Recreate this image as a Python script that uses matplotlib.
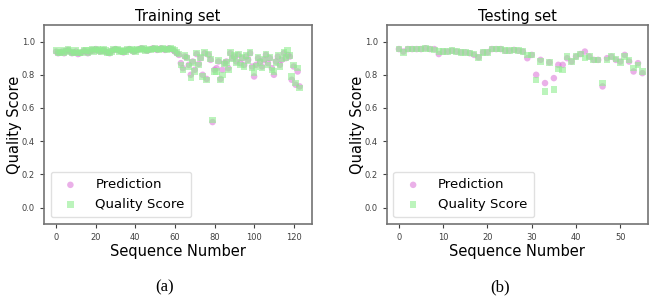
import matplotlib
matplotlib.use("Agg")
import matplotlib.pyplot as plt
import numpy as np

# training set (124 sequences)
train_pred = [
    0.94, 0.93, 0.935, 0.94, 0.93, 0.945, 0.95, 0.94, 0.93, 0.935,
    0.94, 0.925, 0.93, 0.935, 0.945, 0.94, 0.93, 0.94, 0.95, 0.945,
    0.955, 0.95, 0.94, 0.945, 0.95, 0.94, 0.935, 0.93, 0.945, 0.95,
    0.955, 0.95, 0.945, 0.94, 0.935, 0.945, 0.95, 0.955, 0.95, 0.94,
    0.945, 0.95, 0.955, 0.96, 0.955, 0.95, 0.945, 0.95, 0.955, 0.96,
    0.955, 0.95, 0.955, 0.96, 0.955, 0.95, 0.955, 0.96, 0.955, 0.95,
    0.94, 0.93, 0.92, 0.87, 0.84, 0.91, 0.905, 0.86, 0.80, 0.88,
    0.83, 0.925, 0.865, 0.90, 0.80, 0.93, 0.775, 0.92, 0.89, 0.515,
    0.83, 0.84, 0.88, 0.775, 0.83, 0.87, 0.88, 0.84, 0.93, 0.90,
    0.91, 0.88, 0.92, 0.87, 0.90, 0.86, 0.91, 0.89, 0.93, 0.85,
    0.79, 0.86, 0.90, 0.88, 0.85, 0.89, 0.92, 0.87, 0.90, 0.84,
    0.80, 0.88, 0.91, 0.86, 0.89, 0.93, 0.90, 0.92, 0.91, 0.77,
    0.85, 0.74, 0.82, 0.73,
]
train_true = [
    0.945, 0.935, 0.93, 0.945, 0.935, 0.94, 0.955, 0.945, 0.935, 0.93,
    0.945, 0.93, 0.935, 0.93, 0.95, 0.945, 0.935, 0.945, 0.955, 0.94,
    0.95, 0.955, 0.945, 0.94, 0.955, 0.945, 0.93, 0.935, 0.94, 0.955,
    0.95, 0.955, 0.94, 0.945, 0.94, 0.94, 0.955, 0.95, 0.955, 0.945,
    0.94, 0.955, 0.95, 0.955, 0.96, 0.945, 0.95, 0.955, 0.95, 0.955,
    0.96, 0.955, 0.95, 0.955, 0.96, 0.955, 0.95, 0.955, 0.96, 0.955,
    0.945, 0.935, 0.925, 0.86, 0.83, 0.915, 0.90, 0.85, 0.78, 0.875,
    0.82, 0.93, 0.86, 0.905, 0.79, 0.935, 0.77, 0.925, 0.895, 0.527,
    0.82, 0.82, 0.885, 0.77, 0.80, 0.865, 0.875, 0.83, 0.935, 0.895,
    0.915, 0.875, 0.925, 0.86, 0.905, 0.85, 0.915, 0.885, 0.935, 0.84,
    0.81, 0.85, 0.905, 0.875, 0.84, 0.895, 0.925, 0.86, 0.905, 0.83,
    0.82, 0.875, 0.915, 0.85, 0.895, 0.935, 0.905, 0.95, 0.915, 0.79,
    0.86, 0.75, 0.84, 0.72,
]

# testing set (56 sequences)
test_pred = [
    0.955, 0.94, 0.955, 0.955, 0.955, 0.955, 0.96, 0.955, 0.955, 0.925,
    0.94, 0.94, 0.945, 0.94, 0.935, 0.935, 0.93, 0.92, 0.905, 0.935,
    0.935, 0.955, 0.955, 0.955, 0.945, 0.945, 0.95, 0.945, 0.94, 0.90,
    0.92, 0.80, 0.89, 0.75, 0.875, 0.78, 0.86, 0.86, 0.90, 0.88,
    0.91, 0.925, 0.94, 0.91, 0.89, 0.89, 0.73, 0.90, 0.91, 0.89,
    0.88, 0.92, 0.88, 0.82, 0.87, 0.81,
]
test_true = [
    0.955, 0.935, 0.955, 0.955, 0.955, 0.955, 0.96, 0.955, 0.95, 0.94,
    0.94, 0.94, 0.945, 0.94, 0.935, 0.935, 0.93, 0.925, 0.905, 0.935,
    0.935, 0.955, 0.955, 0.955, 0.945, 0.945, 0.95, 0.945, 0.94, 0.92,
    0.92, 0.77, 0.88, 0.70, 0.875, 0.71, 0.835, 0.83, 0.91, 0.88,
    0.91, 0.925, 0.90, 0.91, 0.89, 0.89, 0.75, 0.89, 0.91, 0.895,
    0.875, 0.91, 0.89, 0.84, 0.86, 0.82,
]

yticks = [0.0, 0.2, 0.4, 0.6, 0.8, 1.0]

fig = plt.figure(figsize=(6.5, 2.98), dpi=100)
ax1 = fig.add_axes([0.0677, 0.248, 0.412, 0.668])
ax2 = fig.add_axes([0.595, 0.248, 0.4015, 0.668])


def draw(ax, pred, true, title, xticks, xlim):
    x = np.arange(len(pred))
    ax.scatter(x, pred, s=22, marker="o", color="orchid", alpha=0.55,
               edgecolors="none", label="Prediction")
    ax.scatter(x, true, s=22, marker="s", color="lightgreen", alpha=0.6,
               edgecolors="none", label="Quality Score")
    ax.set_ylim(-0.1, 1.1)
    ax.set_xlim(*xlim)
    ax.set_yticks(yticks)
    ax.set_xticks(xticks)
    ax.tick_params(labelsize=6, colors="0.25", length=3)
    for sp in ax.spines.values():
        sp.set_color("0.45")
        sp.set_linewidth(1.2)
    ax.set_title(title, fontsize=10.5, pad=3)
    ax.set_xlabel("Sequence Number", fontsize=10.5, labelpad=1)
    ax.set_ylabel("Quality Score", fontsize=10.5)
    ax.yaxis.set_label_coords(-0.083, 0.5)
    leg = ax.legend(loc="lower left", fontsize=9.5, frameon=True,
                    handletextpad=0.9, borderpad=0.5, labelspacing=0.5)
    leg.get_frame().set_edgecolor("0.85")


draw(ax1, train_pred, train_true, "Training set",
     [0, 20, 40, 60, 80, 100, 120], (-6.15, 129.15))
draw(ax2, test_pred, test_true, "Testing set",
     [0, 10, 20, 30, 40, 50], (-2.75, 56.2))

fig.text(165 / 650, 1 - 287 / 298, "(a)", fontsize=12, ha="center", va="center",
         family="Liberation Serif")
fig.text(500 / 650, 1 - 287 / 298, "(b)", fontsize=12, ha="center", va="center",
         family="Liberation Serif")

fig.savefig("out.png", dpi=100)
